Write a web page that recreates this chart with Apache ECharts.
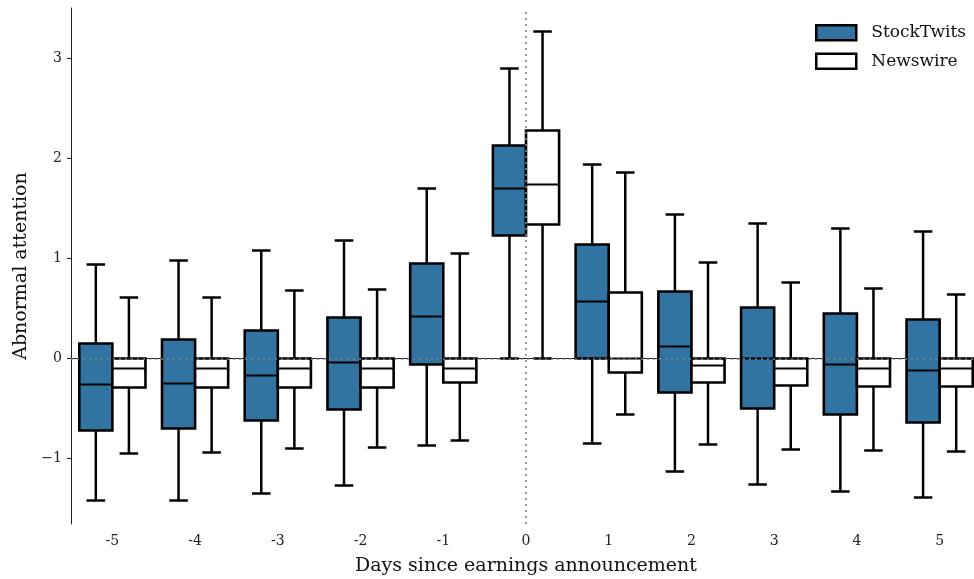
<!DOCTYPE html>
<html><head><meta charset="utf-8">
<script src="https://cdn.jsdelivr.net/npm/echarts@6/dist/echarts.min.js"></script>
<style>html,body{margin:0;padding:0;background:#fff}#c{width:974px;height:579px}</style>
</head><body><div id="c"></div>
<script>
const categories = ['-5','-4','-3','-2','-1','0','1','2','3','4','5'];
const stockLo  = [-1.42,-1.42,-1.35,-1.27,-0.87,0,-0.85,-1.13,-1.26,-1.33,-1.39];
const stockQ1  = [-0.72,-0.70,-0.62,-0.51,-0.06,1.23,0,-0.34,-0.50,-0.56,-0.64];
const stockMed = [-0.26,-0.25,-0.17,-0.04,0.42,1.70,0.57,0.12,0,-0.06,-0.12];
const stockQ3  = [0.15,0.19,0.28,0.41,0.95,2.13,1.14,0.67,0.51,0.45,0.39];
const stockHi  = [0.94,0.98,1.08,1.18,1.70,2.90,1.94,1.44,1.35,1.30,1.27];
const newsLo  = [-0.95,-0.94,-0.90,-0.89,-0.82,0,-0.56,-0.86,-0.91,-0.92,-0.93];
const newsQ1  = [-0.29,-0.29,-0.29,-0.29,-0.24,1.34,-0.14,-0.24,-0.27,-0.28,-0.28];
const newsMed = [-0.10,-0.10,-0.10,-0.10,-0.10,1.74,0,-0.07,-0.10,-0.10,-0.10];
const newsQ3  = [0,0,0,0,0,2.28,0.66,0,0,0,0];
const newsHi  = [0.61,0.61,0.68,0.69,1.05,3.27,1.86,0.96,0.76,0.70,0.64];
const yTicks = [-1,0,1,2,3];

const FONT = 'DejaVu Serif';
const BLUE = '#3274a1';

function rows(lo,q1,med,q3,hi){
  return categories.map((c,i)=>[i,lo[i],q1[i],med[i],q3[i],hi[i]]);
}
function makeRender(off, fill){
  return function(params, api){
    const idx = api.value(0);
    const band = api.size([1,0])[0];
    const cx = api.coord([idx,0])[0] + off*band;
    const w = 0.4*band;
    const y = [1,2,3,4,5].map(k=>api.coord([idx, api.value(k)])[1]);
    const [yLo,yQ1,yMed,yQ3,yHi] = y;
    const ls = {stroke:'#000', lineWidth:2.5};
    const cap = w*0.56;
    return {type:'group', children:[
      {type:'line', shape:{x1:cx,y1:yHi,x2:cx,y2:yQ3}, style:ls},
      {type:'line', shape:{x1:cx,y1:yQ1,x2:cx,y2:yLo}, style:ls},
      {type:'line', shape:{x1:cx-cap/2,y1:yHi,x2:cx+cap/2,y2:yHi}, style:ls},
      {type:'line', shape:{x1:cx-cap/2,y1:yLo,x2:cx+cap/2,y2:yLo}, style:ls},
      {type:'rect', shape:{x:cx-w/2,y:yQ3,width:w,height:yQ1-yQ3}, style:{fill:fill, stroke:'#000', lineWidth:2.6}},
      {type:'line', shape:{x1:cx-w/2,y1:yMed,x2:cx+w/2,y2:yMed}, style:{stroke:'#000', lineWidth:2.2}}
    ]};
  };
}

const chart = echarts.init(document.getElementById('c'), null, {renderer:'canvas'});
chart.setOption({
  animation:false,
  backgroundColor:'#fff',
  textStyle:{fontFamily:FONT},
  grid:{left:71, top:8, right:-7, bottom:55, containLabel:false, outerBoundsMode:'none'},
  legend:{
    orient:'vertical', left:815, top:24, padding:0, itemWidth:40, itemHeight:15, itemGap:11,
    icon:'rect',
    textStyle:{fontFamily:FONT, fontSize:17, color:'#111', padding:[0,0,0,10]},
    data:[
      {name:'StockTwits', itemStyle:{color:BLUE, borderColor:'#000', borderWidth:2.5}},
      {name:'Newswire', itemStyle:{color:'#fff', borderColor:'#000', borderWidth:2.5}}
    ]
  },
  xAxis:{
    type:'category', data:categories, boundaryGap:true,
    name:'Days since earnings announcement', nameLocation:'middle', nameGap:33,
    nameTextStyle:{fontFamily:FONT, fontSize:19, color:'#111'},
    axisLine:{lineStyle:{color:'#222', width:1}},
    axisTick:{alignWithLabel:true, length:4, lineStyle:{color:'#222'}},
    axisLabel:{fontFamily:FONT, fontSize:14, color:'#222', margin:10},
    splitLine:{show:false}
  },
  yAxis:{
    type:'value', min:-1.655, max:3.505,
    name:'Abnormal attention', nameLocation:'middle', nameGap:40,
    nameTextStyle:{fontFamily:FONT, fontSize:19, color:'#111'},
    axisLine:{show:true, lineStyle:{color:'#222', width:1}},
    axisTick:{show:true, length:4, customValues:yTicks, lineStyle:{color:'#222'}},
    axisLabel:{fontFamily:FONT, fontSize:14, color:'#222', margin:9, customValues:yTicks,
      formatter:v=> v<0 ? '\u2212'+Math.abs(v) : String(v)},
    splitLine:{show:false}
  },
  series:[
    {name:'StockTwits', type:'custom', z:2, itemStyle:{color:BLUE, borderColor:'#000'},
     renderItem:makeRender(-0.2, BLUE), encode:{x:0, y:[1,2,3,4,5]},
     data:rows(stockLo,stockQ1,stockMed,stockQ3,stockHi)},
    {name:'Newswire', type:'custom', z:2, itemStyle:{color:'#fff', borderColor:'#000'},
     renderItem:makeRender(0.2, '#fff'), encode:{x:0, y:[1,2,3,4,5]},
     data:rows(newsLo,newsQ1,newsMed,newsQ3,newsHi)},
    {name:'refs', type:'line', data:[], z:10, silent:true,
     markLine:{silent:true, symbol:'none', label:{show:false},
       lineStyle:{color:'#808080', type:[2,4], width:1.6},
       data:[{yAxis:0},{xAxis:'0'}]}}
  ]
});
</script></body></html>
